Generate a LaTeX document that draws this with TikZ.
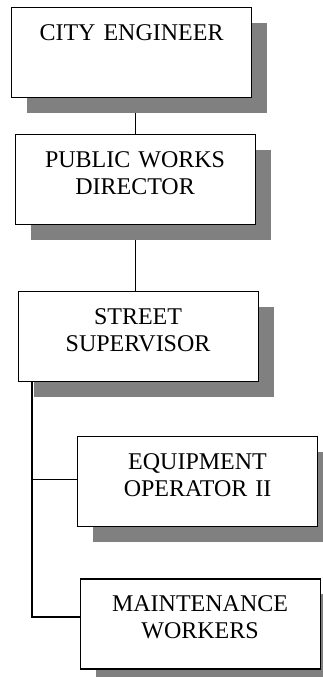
\documentclass[tikz,border=0pt]{standalone}
\usepackage{fontspec}
\setmainfont{Liberation Serif}
\usetikzlibrary{positioning,shadows,backgrounds}

\begin{document}
\begin{tikzpicture}[
    x=1pt, y=1pt,
    node distance=36pt,
    post/.style={draw=black, line width=1.1pt, fill=white, rectangle, text width=240pt, align=center, inner sep=0pt, text height=33pt, text depth=57pt, font=\fontsize{24}{27}\selectfont, drop shadow={shadow xshift=15.5pt, shadow yshift=-15.5pt, fill=black!50, opacity=1}},
    link/.style={draw=black, line width=1.1pt}
]
  \useasboundingbox (0,0) rectangle (323,-677);

  % Nodes
  \node (ceng) [post, anchor=north west] at (11,-7) {CITY ENGINEER};
  \node (pwd) [post, below=36pt of ceng, xshift=3.5pt] {PUBLIC WORKS\\DIRECTOR};
  \node (strsup) [post, below=66pt of pwd, xshift=3pt] {STREET\\SUPERVISOR};
  \node (eqop) [post, below=54pt of strsup, xshift=59.5pt] {EQUIPMENT\\OPERATOR II};
  \node (mwork) [post, below=51pt of eqop, xshift=2.5pt] {MAINTENANCE\\WORKERS};

  % Lines (behind the shadows)
  \begin{scope}[on background layer]
    \coordinate (trunk) at ([xshift=14.5pt]strsup.south west);
    \coordinate (eqin) at ([yshift=2pt]eqop.west);
    \coordinate (mwin) at ([yshift=7pt]mwork.west);
    \draw [link] (pwd.north) -- (pwd.north |- ceng.south);
    \draw [link] (pwd.south) -- (pwd.south |- strsup.north);
    \draw [link] (trunk) |- (mwin);
    \draw [link] (trunk |- eqin) -- (eqin);
  \end{scope}

\end{tikzpicture}
\end{document}
